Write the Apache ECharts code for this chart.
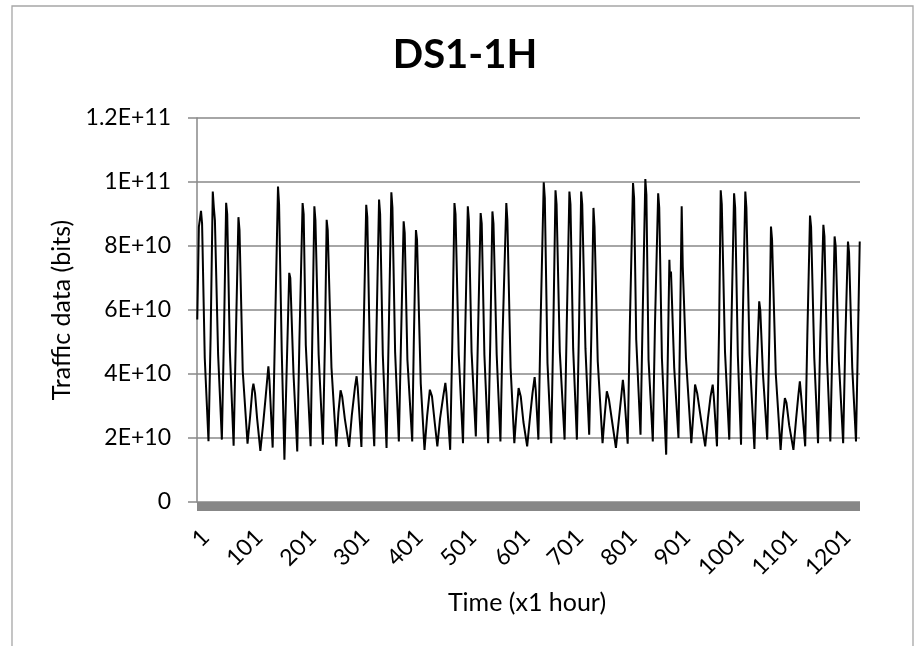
<!DOCTYPE html>
<html><head><meta charset="utf-8">
<script src="https://cdn.jsdelivr.net/npm/echarts@6/dist/echarts.min.js"></script>
<style>html,body{margin:0;padding:0;background:#fff}#c{width:915px;height:646px}</style>
</head><body><div id="c"></div>
<script>
// hour index (x1 hour) of each read point
const hourIndex = [
  1,4,8,10,15,22,
  26,30,32,34,40,47,
  51,55,57,62,69,
  73,78,80,86,95,
  100,104,106,109,113,119,
  124,129,134,136,142,
  146,152,154,159,164,
  168,173,175,181,188,
  192,198,200,204,213,
  216,220,222,228,236,
  240,243,245,252,261,
  265,269,272,277,285,
  290,296,299,301,308,
  312,317,319,324,332,
  336,341,343,348,355,
  359,364,366,371,378,
  382,387,389,394,403,
  406,410,412,419,426,
  431,436,440,445,450,
  455,461,465,467,474,
  478,482,484,490,498,
  502,507,509,514,522,
  526,531,533,538,545,
  549,553,555,561,568,
  572,579,581,587,594,
  598,602,606,611,618,
  623,628,632,634,639,
  643,649,651,656,663,
  667,671,673,679,688,
  692,697,699,704,711,
  715,719,721,727,734,
  738,742,744,750,759,
  763,767,771,777,784,
  789,794,797,799,806,
  810,816,818,822,830,
  834,839,841,845,853,
  857,863,865,870,878,
  881,884,885,887,893,901,
  904,907,909,915,925,
  929,932,936,943,951,
  956,961,965,967,973,
  977,980,982,988,996,
  1000,1005,1007,1012,1018,
  1021,1026,1028,1034,1043,
  1047,1052,1054,1059,1067,
  1071,1074,1076,1083,1092,
  1096,1100,1103,1108,1116,
  1121,1125,1128,1130,1138,
  1142,1147,1149,1155,1162,
  1166,1172,1174,1179,1185,
  1189,1193,1195,1201,1209,
  1213,1218,1220,1226,1233,
  1236,1240
];
// traffic, in units of 1E9 bits
const trafficE9 = [
  57,86,91,87,45,19,
  52,97,92,88,46,19.5,
  53,93.5,90,47,17.6,
  50,89,85,41,18.2,
  27,35,37,34,26,16,
  24,33,42.4,38,17,
  50,98.6,93,47,13.2,
  40,71.6,70,40,15.8,
  50,93.4,90,49,17.4,
  50,92.4,88,46,17.9,
  52,88.2,85,42,17.4,
  28,34.9,33,26,17.2,
  27,36,39.3,36,17.2,
  52,92.9,89,44.5,17.4,
  52,94.5,90,46,16.9,
  52,96.8,92,47,18.9,
  50,87.7,84,44.5,18.9,
  50,85,82,37,16.3,
  27,35.1,33,25,17.4,
  26,33,37.2,34,16.3,
  50,93.4,90,46,18.4,
  52,92.4,88,47,20.5,
  52,90.3,87,46,18.4,
  50,90.8,87,46,18.9,
  52,93.4,88,42,18.4,
  28,35.6,33,25,17.4,
  26,34,39,35,19.5,
  55,99.9,95,43.4,18.4,
  55,97.4,93,47,19.5,
  55,97,93,48,19.5,
  55,97,93,48,21,
  52,91.9,86,44,18.4,
  27,34.6,32,25,16.9,
  25,33,38.2,35,18.2,
  55,99.7,95,50.7,21,
  58,100.9,96,44.5,18.9,
  55,96.5,92,45,14.8,
  45,75.7,70.5,72,42,20,
  55,92.4,73.6,45,18.4,
  28,36.7,34,26,17.4,
  26,33,36.7,33,17.4,
  55,97.4,93,47,19.5,
  55,96.5,92,46,17.9,
  55,97,92,46,16.6,
  40,62.7,60,40,19.5,
  52,86.1,82,40,16.3,
  26,32.5,31,24,16.3,
  26,33,37.7,34,17.4,
  52,89.5,86,45,18.4,
  50,86.6,83,44,18.9,
  50,83,80,44,18.4,
  50,81.4,78,42,18.9,
  45,81.4
];
const hourCount = 1240;
const xTickValues = [1,101,201,301,401,501,601,701,801,901,1001,1101,1201];
const yTickLabels = ['0','2E+10','4E+10','6E+10','8E+10','1E+11','1.2E+11'];
const titleText = 'DS1-1H';
const xAxisName = 'Time (x1 hour)';
const yAxisName = 'Traffic data (bits)';

const points = hourIndex.map((h, i) => [h, trafficE9[i] * 1e9]);
const FONT = 'Lato, "Liberation Sans", sans-serif';
const axisGray = '#898989';

const chart = echarts.init(document.getElementById('c'), null, {renderer: 'canvas'});
chart.setOption({
  animation: false,
  backgroundColor: '#fff',
  grid: {left: 197, right: 55, top: 118, bottom: 144, containLabel: false},
  xAxis: {
    type: 'value', min: 0.5, max: hourCount + 0.5,
    offset: 4.5,
    splitLine: {show: false},
    axisTick: {show: false},
    axisLine: {show: true, onZero: false, lineStyle: {color: '#878787', width: 9, cap: 'butt'}},
    axisLabel: {
      customValues: xTickValues, rotate: 45, margin: 19,
      verticalAlign: 'top',
      fontSize: 23, color: '#000', fontFamily: FONT,
      formatter: v => String(v)
    }
  },
  yAxis: {
    type: 'value', min: 0, max: 1.2e11, interval: 2e10,
    axisLine: {show: true, lineStyle: {color: axisGray, width: 1.5}},
    axisTick: {show: true, inside: false, length: 9, lineStyle: {color: axisGray, width: 1.5}},
    splitLine: {show: true, lineStyle: {color: axisGray, width: 1.5}},
    axisLabel: {
      margin: 26, fontSize: 23, color: '#000', fontFamily: FONT,
      formatter: v => yTickLabels[Math.round(v / 2e10)]
    }
  },
  series: [{
    type: 'line', data: points, showSymbol: false, symbol: 'none',
    lineStyle: {color: '#000', width: 2}, z: 3
  }],
  graphic: [
    {type: 'rect', shape: {x: 12, y: 6, width: 901, height: 700},
     style: {fill: 'none', stroke: '#a6a6a6', lineWidth: 1.3}, silent: true, z: -1},
    {type: 'text', x: 465, y: 55,
     style: {text: titleText, fontSize: 40, fontWeight: 'bold', fontFamily: FONT, fill: '#000',
             align: 'center', verticalAlign: 'middle'}},
    {type: 'text', x: 527, y: 603,
     style: {text: xAxisName, fontSize: 25, fontFamily: FONT, fill: '#000',
             align: 'center', verticalAlign: 'middle'}},
    {type: 'text', x: 62, y: 310, rotation: Math.PI / 2,
     style: {text: yAxisName, fontSize: 25, fontFamily: FONT, fill: '#000',
             align: 'center', verticalAlign: 'middle'}}
  ]
});
</script></body></html>
